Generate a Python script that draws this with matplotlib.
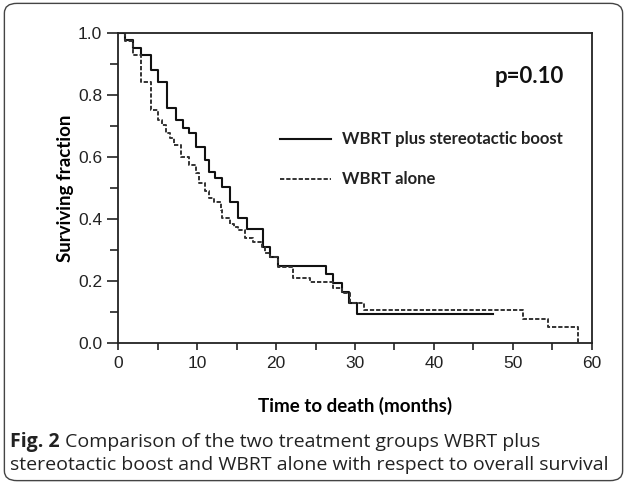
import matplotlib
matplotlib.use('Agg')
import matplotlib.pyplot as plt
from matplotlib.patches import FancyBboxPatch
from matplotlib.ticker import MultipleLocator, FormatStrFormatter

# Kaplan-Meier steps (months, surviving fraction)
months_boost = [0, 0.9, 1.9, 2.9, 4.1, 5.0, 6.2, 7.3, 8.2, 9.0, 9.9, 11.0, 11.5, 12.3,
                13.1, 14.2, 15.2, 16.3, 18.3, 19.2, 20.3, 26.3, 27.2, 28.3, 29.3, 30.3, 47.5]
surv_boost = [1.0, 0.977, 0.953, 0.93, 0.882, 0.844, 0.758, 0.72, 0.693, 0.677, 0.634, 0.59,
              0.553, 0.532, 0.505, 0.455, 0.405, 0.367, 0.311, 0.278, 0.25, 0.223, 0.193,
              0.166, 0.13, 0.094, 0.094]

months_alone = [0, 0.8, 1.9, 2.9, 4.1, 5.0, 5.5, 6.1, 6.6, 7.1, 8.0, 9.0, 9.9, 10.2, 11.0,
                11.5, 12.1, 13.0, 13.2, 14.2, 14.6, 15.2, 16.1, 17.1, 18.2, 18.6, 19.2, 20.3,
                22.2, 24.3, 27.2, 28.3, 29.4, 31.2, 51.3, 54.5, 58.3]
surv_alone = [1.0, 0.975, 0.93, 0.844, 0.752, 0.72, 0.704, 0.677, 0.661, 0.64, 0.60, 0.575,
              0.55, 0.516, 0.49, 0.467, 0.456, 0.43, 0.403, 0.385, 0.376, 0.365, 0.338, 0.327,
              0.311, 0.29, 0.279, 0.245, 0.209, 0.197, 0.177, 0.16, 0.128, 0.107, 0.077,
              0.051, 0.0]

label_boost = "WBRT plus stereotactic boost"
label_alone = "WBRT alone"
p_text = "p=0.10"

plt.rcParams['font.family'] = ['Liberation Sans', 'DejaVu Sans']

fig = plt.figure(figsize=(6.27, 4.84), dpi=100)
ax = fig.add_axes([0.1887, 0.2913, 0.755, 0.6399])

ax.step(months_boost, surv_boost, where='post', color='#111111', lw=1.5)
ax.step(months_alone, surv_alone, where='post', color='#333333', lw=1.4,
        linestyle=(0, (2.2, 1.0)))

ax.set_xlim(0, 60)
ax.set_ylim(0, 1.0)
ax.xaxis.set_major_locator(MultipleLocator(10))
ax.xaxis.set_minor_locator(MultipleLocator(5))
ax.yaxis.set_major_locator(MultipleLocator(0.2))
ax.yaxis.set_minor_locator(MultipleLocator(0.1))
ax.yaxis.set_major_formatter(FormatStrFormatter('%.1f'))
ax.tick_params(which='both', direction='out', width=1.2, labelsize=12.5, colors='#222222')
ax.tick_params(axis='x', which='both', length=5, pad=4)
ax.tick_params(axis='y', which='major', length=8)
ax.tick_params(axis='y', which='minor', length=6)
for s in ax.spines.values():
    s.set_linewidth(1.3)
    s.set_color('#222222')

ax.set_xlabel("Time to death (months)", family='Lato', fontweight='bold', fontsize=13.5,
              labelpad=19)
ax.set_ylabel("Surviving fraction", family='Lato', fontweight='bold', fontsize=13.5,
              labelpad=3)

# hand-drawn legend like the original
lx0, lx1, ltx = 0.342, 0.449, 0.4725
ax.plot([lx0, lx1], [0.658, 0.658], transform=ax.transAxes, color='#111111', lw=1.5)
ax.plot([lx0, lx1], [0.53, 0.53], transform=ax.transAxes, color='#333333', lw=1.4,
        linestyle=(0, (2.2, 1.0)))
ax.text(ltx, 0.658, label_boost, transform=ax.transAxes, family='Lato', fontweight='bold',
        fontsize=12, va='center', ha='left', color='#222222')
ax.text(ltx, 0.53, label_alone, transform=ax.transAxes, family='Lato', fontweight='bold',
        fontsize=12, va='center', ha='left', color='#222222')
ax.text(0.8675, 0.859, p_text, transform=ax.transAxes, family='Lato', fontweight='bold',
        fontsize=16, va='center', ha='center', color='#111111')

# caption
fig_lbl = fig.text(0.016, 0.087, "Fig. 2", family='Open Sans', fontweight='bold',
                   fontsize=14, va='center', ha='left', color='#222222')
plt.annotate("Comparison of the two treatment groups WBRT plus",
             xy=(1, 0.5), xycoords=fig_lbl, xytext=(4, 0), textcoords='offset points',
             family='Open Sans', fontsize=14, va='center', ha='left', color='#222222')
fig.text(0.016, 0.04, "stereotactic boost and WBRT alone with respect to overall survival",
         family='Open Sans', fontsize=14, va='center', ha='left', color='#222222')

box = FancyBboxPatch((0.007, 0.007), 0.986, 0.986, boxstyle='round,pad=0,rounding_size=0.02',
                     transform=fig.transFigure, fill=False, edgecolor='#444444', lw=1.0)
fig.patches.append(box)

fig.savefig('out.png', dpi=100)
